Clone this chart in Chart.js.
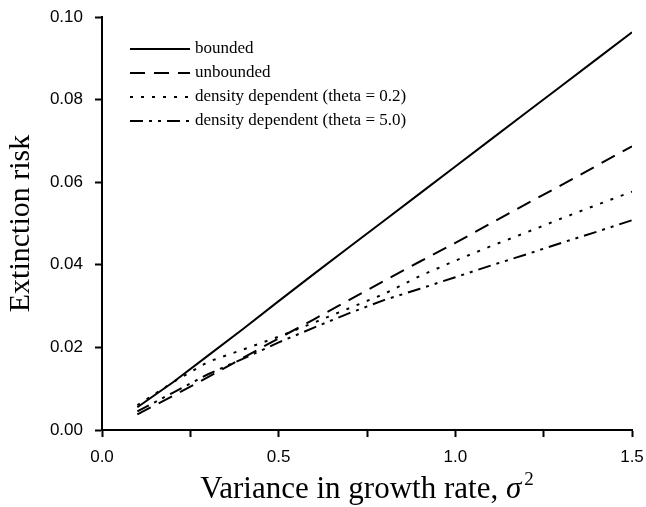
<!DOCTYPE html>
<html>
<head>
<meta charset="utf-8">
<script src="https://cdn.jsdelivr.net/npm/chart.js@4"></script>
<style>
  html, body { margin: 0; padding: 0; background: #fff; }
  #wrap { width: 646px; height: 507px; }
</style>
</head>
<body>
<div id="wrap"><canvas id="riskChart" width="646" height="507"></canvas></div>
<script>
// variance in growth rate (sigma^2)
var sigma2 = [0.1, 0.2, 0.3, 0.4, 0.5, 0.6, 0.7, 0.8, 0.9, 1.0, 1.1, 1.2, 1.3, 1.4, 1.5];

// extinction risk for each model
var bounded      = [0.0055, 0.0115, 0.0180, 0.0245, 0.0312, 0.0378, 0.0443, 0.0508, 0.0573, 0.0638, 0.0703, 0.0768, 0.0833, 0.0898, 0.0963];
var unbounded    = [0.0038, 0.0082, 0.0128, 0.0175, 0.0222, 0.0268, 0.0315, 0.0362, 0.0408, 0.0453, 0.0500, 0.0547, 0.0593, 0.0640, 0.0687];
var densTheta02  = [0.0060, 0.0115, 0.0165, 0.0195, 0.0226, 0.0260, 0.0295, 0.0330, 0.0373, 0.0410, 0.0445, 0.0478, 0.0512, 0.0545, 0.0577];
var densTheta50  = [0.0045, 0.0090, 0.0135, 0.0173, 0.0212, 0.0248, 0.0283, 0.0315, 0.0342, 0.0370, 0.0398, 0.0425, 0.0453, 0.0480, 0.0508];

var seriesLabels = ['bounded', 'unbounded', 'density dependent (theta = 0.2)', 'density dependent (theta = 5.0)'];
var dashes = [[], [15, 9], [3, 8], [13, 6, 3, 6, 3, 6]];

var xTicks = [0.0, 0.5, 1.0, 1.5];

function pairs(ys) {
    return sigma2.map(function (x, i) { return { x: x, y: ys[i] }; });
}

var serif = "'Liberation Serif', 'Times New Roman', serif";
var sans = "'Liberation Sans', Arial, sans-serif";

// legend drawn inside the plot, top left
var innerLegend = {
    id: 'innerLegend',
    afterDatasetsDraw: function (chart) {
        var ctx = chart.ctx;
        var x0 = 130, x1 = 190, y0 = 49, step = 24;
        ctx.save();
        chart.data.datasets.forEach(function (ds, i) {
            var y = y0 + i * step;
            ctx.beginPath();
            ctx.setLineDash(ds.borderDash || []);
            ctx.lineWidth = 2;
            ctx.strokeStyle = '#000';
            ctx.moveTo(x0, y);
            ctx.lineTo(x1, y);
            ctx.stroke();
            ctx.setLineDash([]);
            ctx.fillStyle = '#000';
            ctx.font = '17px ' + serif;
            ctx.textBaseline = 'middle';
            ctx.textAlign = 'left';
            ctx.fillText(ds.label, x1 + 5, y);
        });
        ctx.restore();
    }
};

// x axis title with italic sigma and superscript 2
var xTitle = {
    id: 'xTitle',
    afterDraw: function (chart) {
        var ctx = chart.ctx;
        var area = chart.chartArea;
        var main = 'Variance in growth rate, ';
        ctx.save();
        ctx.fillStyle = '#000';
        ctx.textBaseline = 'alphabetic';
        ctx.textAlign = 'left';
        ctx.font = '31px ' + serif;
        var w1 = ctx.measureText(main).width;
        ctx.font = 'italic 31px ' + serif;
        var w2 = ctx.measureText('σ').width;
        ctx.font = '19px ' + serif;
        var w3 = ctx.measureText('2').width;
        var x = (area.left + area.right) / 2 - (w1 + w2 + 3 + w3) / 2;
        var y = 498;
        ctx.font = '31px ' + serif;
        ctx.fillText(main, x, y);
        ctx.font = 'italic 31px ' + serif;
        ctx.fillText('σ', x + w1, y);
        ctx.font = '19px ' + serif;
        ctx.fillText('2', x + w1 + w2 + 3, y - 13);
        ctx.restore();
    }
};

var datasets = [bounded, unbounded, densTheta02, densTheta50].map(function (ys, i) {
    return {
        label: seriesLabels[i],
        data: pairs(ys),
        borderColor: '#000',
        backgroundColor: '#000',
        borderWidth: 2,
        borderDash: dashes[i],
        pointRadius: 0,
        tension: 0,
        fill: false
    };
});

new Chart(document.getElementById('riskChart'), {
    type: 'line',
    data: { datasets: datasets },
    options: {
        responsive: false,
        animation: false,
        events: [],
        layout: { padding: { top: 17, right: 14, left: 0, bottom: 0 } },
        plugins: {
            legend: { display: false },
            tooltip: { enabled: false }
        },
        scales: {
            x: {
                type: 'linear',
                min: 0,
                max: 1.5,
                afterFit: function (scale) {
                    scale.height = 77;
                    scale.paddingLeft = 0;
                    scale.paddingRight = 0;
                },
                ticks: {
                    stepSize: 0.25,
                    padding: 10,
                    color: '#000',
                    font: { family: sans, size: 17 },
                    maxRotation: 0,
                    autoSkip: false,
                    callback: function (v) {
                        var hit = xTicks.some(function (t) { return Math.abs(t - v) < 1e-9; });
                        return hit ? v.toFixed(1) : '';
                    }
                },
                grid: { drawOnChartArea: false, drawTicks: true, tickLength: 7, tickWidth: 2, color: '#000' },
                border: { display: true, color: '#000', width: 2 },
                title: { display: false }
            },
            y: {
                min: 0,
                max: 0.1,
                afterFit: function (scale) {
                    scale.width = 102;
                    scale.paddingTop = 0;
                    scale.paddingBottom = 0;
                },
                ticks: {
                    stepSize: 0.02,
                    padding: 12,
                    color: '#000',
                    font: { family: sans, size: 17 },
                    callback: function (v) { return v.toFixed(2); }
                },
                grid: { drawOnChartArea: false, drawTicks: true, tickLength: 7, tickWidth: 2, color: '#000' },
                border: { display: true, color: '#000', width: 2 },
                title: {
                    display: true,
                    text: 'Extinction risk',
                    color: '#000',
                    font: { family: serif, size: 30 },
                    padding: { top: 3, bottom: 0 }
                }
            }
        }
    },
    plugins: [innerLegend, xTitle]
});
</script>
</body>
</html>
